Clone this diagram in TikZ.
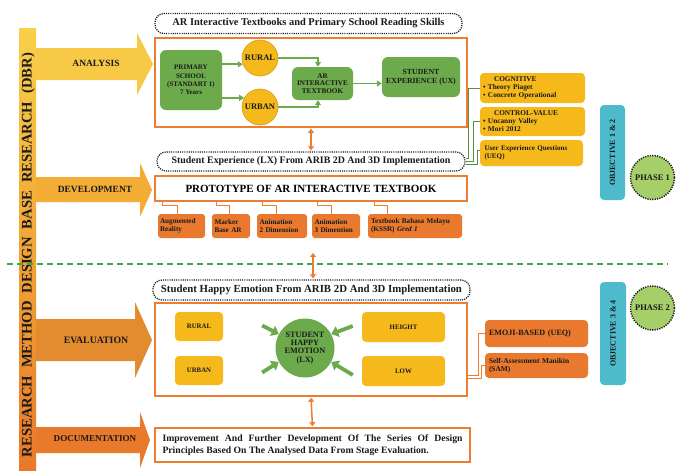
\documentclass[tikz,border=0pt]{standalone}
\usepackage{fontspec}
\setmainfont{Liberation Serif}
\usetikzlibrary{arrows.meta,calc}

\definecolor{grn}{HTML}{6CAA4C}
\definecolor{gold}{HTML}{F5B91C}
\definecolor{goldline}{HTML}{D9961A}
\definecolor{org}{HTML}{EC7D31}
\definecolor{obx}{HTML}{E8792E}
\definecolor{objteal}{HTML}{4DBBCB}
\definecolor{phasegreen}{HTML}{A6CF6A}
\definecolor{dgreen}{HTML}{3DA64F}
\definecolor{barTop}{HTML}{F8D04A}
\definecolor{barMid}{HTML}{F2A534}
\definecolor{barBot}{HTML}{E8782A}
\definecolor{arA}{HTML}{F8C847}
\definecolor{arD}{HTML}{F3AD35}
\definecolor{arE}{HTML}{E38B2F}
\definecolor{arC}{HTML}{EA7A2B}
\definecolor{txt}{HTML}{1A1A1A}

\tikzset{
  fnt/.style={font=\fontsize{#1}{#1}\selectfont\bfseries},
  lbl/.style={fnt=9.5, text=txt, inner sep=0pt},
  dotbox/.style={draw=txt, line width=1.3pt, dash pattern=on 1.1pt off 1.1pt,
    rounded corners=9pt, fill=white, inner sep=0pt, text=txt},
  mainbox/.style={draw=org, line width=1.5pt, fill=white, inner sep=0pt},
  gbox/.style={fill=grn, rounded corners=6pt, inner sep=0pt, align=center, text=txt},
  ycirc/.style={circle, fill=gold, draw=goldline, line width=0.6pt, inner sep=0pt, text=txt},
  sbox/.style={fill=obx, rounded corners=3pt, inner sep=0pt, align=left, text=txt},
  rbox/.style={fill=gold, rounded corners=4pt, inner sep=0pt, align=left, text=txt},
  ebox/.style={fill=obx, rounded corners=4pt, inner sep=0pt, align=left, text=txt},
  objbox/.style={fill=objteal, rounded corners=4pt, inner sep=0pt, rotate=90, text=txt, fnt=8},
  phasec/.style={circle, fill=phasegreen, draw=txt, line width=1.5pt,
    dash pattern=on 1.2pt off 1.2pt, inner sep=0pt, minimum size=44pt, text=txt, fnt=8.5},
  garr/.style={draw=grn, line width=1.6pt, -{Triangle[length=5pt,width=6pt]}},
  tarr/.style={draw=grn, line width=3.8pt, -{Triangle[length=7pt,width=11pt]}},
  dblarr/.style={draw=org, line width=1.5pt, shorten <=1pt, shorten >=1pt,
    {Triangle[length=4pt,width=6pt]}-{Triangle[length=4pt,width=6pt]}},
  oline/.style={draw=org, line width=1.1pt},
  gline/.style={draw=grn!85!black, line width=0.9pt},
}

\begin{document}
\begin{tikzpicture}[x=1pt,y=-1pt]
\useasboundingbox (0,0) rectangle (680,471);
\fill[white] (0,0) rectangle (680,471);

% ---------- left bar ----------
\shade[top color=barTop, bottom color=barBot, middle color=barMid] (19,28) rectangle (36,471);
\node[rotate=90, fnt=14.6, text=txt, inner sep=0pt] (bartext) at (28,255)
  {\makebox[404pt][s]{RESEARCH METHOD DESIGN BASE RESEARCH (DBR)}};

% ---------- stage arrows ----------
\fill[arA] (36,48) -- (137,48) -- (137,33) -- (153,64) -- (137,95) -- (137,80) -- (36,80) -- cycle;
\fill[arD] (36,177) -- (140,177) -- (140,163) -- (152,190) -- (140,217) -- (140,202) -- (36,202) -- cycle;
\fill[arE] (36,319) -- (135,319) -- (135,302) -- (152,340) -- (135,378) -- (135,361) -- (36,361) -- cycle;
\fill[arC] (36,427) -- (140,427) -- (140,412) -- (150,440) -- (140,468) -- (140,453) -- (36,453) -- cycle;
\node[lbl] (tana) at (96,63) {ANALYSIS};
\node[lbl] (tdev) at (95,189) {DEVELOPMENT};
\node[lbl, fnt=9.8] (teva) at (96,340) {EVALUATION};
\node[lbl, fnt=9.1] (tdoc) at (95,439) {DOCUMENTATION};

% ---------- analysis ----------
\node[dotbox, minimum width=307pt, minimum height=20pt, fnt=10.4] (hdr1) at (308.5,23.5)
  {AR Interactive Textbooks and Primary School Reading Skills};
\node[mainbox, minimum width=312pt, minimum height=89pt] (box1) at (311,82.5) {};
\node[gbox, minimum width=62pt, minimum height=60pt,
  font=\fontsize{7}{8.3}\selectfont\bfseries] (primary) at (191,80)
  {PRIMARY\\SCHOOL\\(STANDART 1)\\7 Years};
\node[ycirc, minimum size=36pt, fnt=8.5] (rural) at (260,58) {RURAL};
\node[ycirc, minimum size=36pt, fnt=8.5] (urban) at (260,107) {URBAN};
\node[gbox, minimum width=61pt, minimum height=33pt,
  font=\fontsize{7.2}{7.8}\selectfont\bfseries] (ar) at (322.5,83.5)
  {AR\\INTERACTIVE\\TEXTBOOK};
\node[gbox, minimum width=78pt, minimum height=40pt,
  font=\fontsize{7.8}{9}\selectfont\bfseries] (ux) at (421,77)
  {STUDENT\\EXPERIENCE (UX)};

\draw[garr] (primary.east |- rural.200) -- (rural.200);
\draw[garr] (primary.east |- urban.150) -- (urban.150);
\draw[garr] (rural.east) -| ($(ar.north)+(-4.5,0)$);
\draw[garr] (urban.east) -| ($(ar.south)+(-4.5,0)$);
\draw[garr] (ar.east) -- (ar.east -| ux.west);

\node[dotbox, minimum width=308pt, minimum height=19pt, fnt=9.9] (lx) at (311,161.5)
  {Student Experience (LX) From ARIB 2D And 3D Implementation};
\draw[dblarr] (box1.south) -- (lx.north);

% right gold boxes
\node[rbox, minimum width=105pt, minimum height=30pt, text width=99pt,
  font=\fontsize{7.3}{8}\selectfont\bfseries] (cog) at (532.5,88)
  {\hspace*{11pt}COGNITIVE\\• Theory Piaget\\• Concrete Operational};
\node[rbox, minimum width=105pt, minimum height=29pt, text width=99pt,
  font=\fontsize{7.3}{8}\selectfont\bfseries] (ctrl) at (532.5,121.5)
  {\hspace*{11pt}CONTROL-VALUE\\• Uncanny Valley\\• Mori 2012};
\node[rbox, minimum width=103pt, minimum height=26pt, text width=94pt,
  font=\fontsize{7.1}{8.5}\selectfont\bfseries] (ueq) at (531.5,153)
  {User Experience Questions\\(UEQ)};
\draw[gline] (cog.west) -- ++(-11,0) |- ($(lx.east)+(0,-3)$);
\draw[gline] (ctrl.west) -- ++(-6,0) |- (lx.east);
\draw[gline] ($(ueq.west)+(0,-3)$) -- ++(-2,0) |- ($(lx.east)+(0,3)$);

\node[objbox, minimum width=95pt, minimum height=25pt] (obj12) at (612.5,152.5) {OBJECTIVE 1 \& 2};
\node[phasec] (ph1) at (652.5,177.5) {PHASE 1};

% ---------- development ----------
\node[mainbox, minimum width=312pt, minimum height=25pt, fnt=11] (proto) at (311,188.5)
  {PROTOTYPE OF AR INTERACTIVE TEXTBOOK};
\tikzset{sfont/.style={font=\fontsize{7.2}{8.4}\selectfont\bfseries}}
\node[sbox, sfont, minimum width=47pt, minimum height=24pt, text width=43pt] (aug) at (181.5,226) {Augmented\\Reality};
\node[sbox, sfont, minimum width=38pt, minimum height=24pt, text width=33pt] (mark) at (231,226) {Marker\\Base AR};
\node[sbox, sfont, minimum width=50pt, minimum height=24pt, text width=45pt] (an2) at (282,226) {Animation\\2 Dimension};
\node[sbox, sfont, minimum width=48pt, minimum height=24pt, text width=43pt] (an3) at (336,226) {Animation\\3 Dimention};
\node[sbox, sfont, minimum width=94pt, minimum height=24pt, text width=88pt] (tb) at (415,226) {Textbook Bahasa Melayu\\(KSSR) \textit{Gred 1}};
\draw[oline] ($(aug.north west |- proto.south)+(5,0)$) -- ++(0,4) -| ($(aug.north west)+(20,0)$);
\draw[oline] ($(mark.north west |- proto.south)+(5,0)$) -- ++(0,4) -| ($(mark.north west)+(18,0)$);
\draw[oline] ($(an2.north west |- proto.south)+(6,0)$) -- ++(0,4) -| ($(an2.north west)+(20,0)$);
\draw[oline] ($(an3.north west |- proto.south)+(6,0)$) -- ++(0,4) -| ($(an3.north west)+(20,0)$);
\draw[oline] ($(tb.north west |- proto.south)+(7,0)$) -- ++(0,4) -| ($(tb.north west)+(20,0)$);

% ---------- phase divider ----------
\coordinate (divl) at (7,264);
\coordinate (divr) at (668,264);
\draw[dgreen, line width=1.3pt, dash pattern=on 6pt off 4pt] (divl) -- (divr);

% ---------- evaluation ----------
\node[dotbox, minimum width=317pt, minimum height=20pt, fnt=10.8] (happy) at (311.5,290)
  {Student Happy Emotion From ARIB 2D And 3D Implementation};
\coordinate (d2top) at (313,252);
\draw[dblarr] (d2top) -- (d2top |- happy.north);

\node[mainbox, minimum width=312pt, minimum height=93pt] (box2) at (311,349.5) {};
\node[gbox, fill=gold, rounded corners=4pt, minimum width=48pt, minimum height=29pt, fnt=6.8] (rur2) at (199,326.5) {RURAL};
\node[gbox, fill=gold, rounded corners=4pt, minimum width=48pt, minimum height=29pt, fnt=6.8] (urb2) at (199,370.5) {URBAN};
\node[gbox, fill=gold, rounded corners=4pt, minimum width=83pt, minimum height=30pt, fnt=6.8] (hei) at (403.5,327) {HEIGHT};
\node[gbox, fill=gold, rounded corners=4pt, minimum width=83pt, minimum height=30pt, fnt=6.8] (low) at (403.5,371) {LOW};
\node[circle, fill=grn, inner sep=0pt, minimum size=59pt, align=center, text=txt,
  font=\fontsize{8.2}{8.2}\selectfont\bfseries] (emo) at (305,348)
  {STUDENT\\HAPPY\\EMOTION\\(LX)};
\draw[tarr] ($(rur2.east)+(39,-1)$) -- (emo.152);
\draw[tarr] ($(urb2.east)+(39,2)$) -- (emo.208);
\draw[tarr] ($(hei.west)+(-9,-1)$) -- (emo.28);
\draw[tarr] ($(low.west)+(-9,4)$) -- (emo.-28);

\node[ebox, minimum width=103pt, minimum height=27pt, text width=95pt, fnt=8.1] (emoji) at (536.5,333.5)
  {EMOJI-BASED (UEQ)};
\node[ebox, minimum width=103pt, minimum height=25pt, text width=95pt,
  font=\fontsize{7.4}{8.4}\selectfont\bfseries] (sam) at (536.5,365.5)
  {Self-Assessment Manikin\\(SAM)};
\draw[oline] (emoji.west) -- ++(-6,0) |- ($(box2.east)+(0,26)$);
\draw[oline] (sam.west) -- ++(-3,0) |- ($(box2.east)+(0,29)$);

\node[objbox, minimum width=103pt, minimum height=26pt] (obj34) at (613,333.5) {OBJECTIVE 3 \& 4};
\node[phasec] (ph2) at (652.5,308) {PHASE 2};

% ---------- documentation ----------
\node[mainbox, minimum width=315pt, minimum height=34pt, text width=300pt, align=justify,
  font=\fontsize{9.7}{11.5}\selectfont\bfseries, text=txt] (doc) at (312.5,445)
  {Improvement And Further Development Of The Series Of Design\linebreak
   Principles Based On The Analysed Data From Stage Evaluation.};
\draw[dblarr] (box2.south) -- (doc.north);
\end{tikzpicture}
\end{document}
